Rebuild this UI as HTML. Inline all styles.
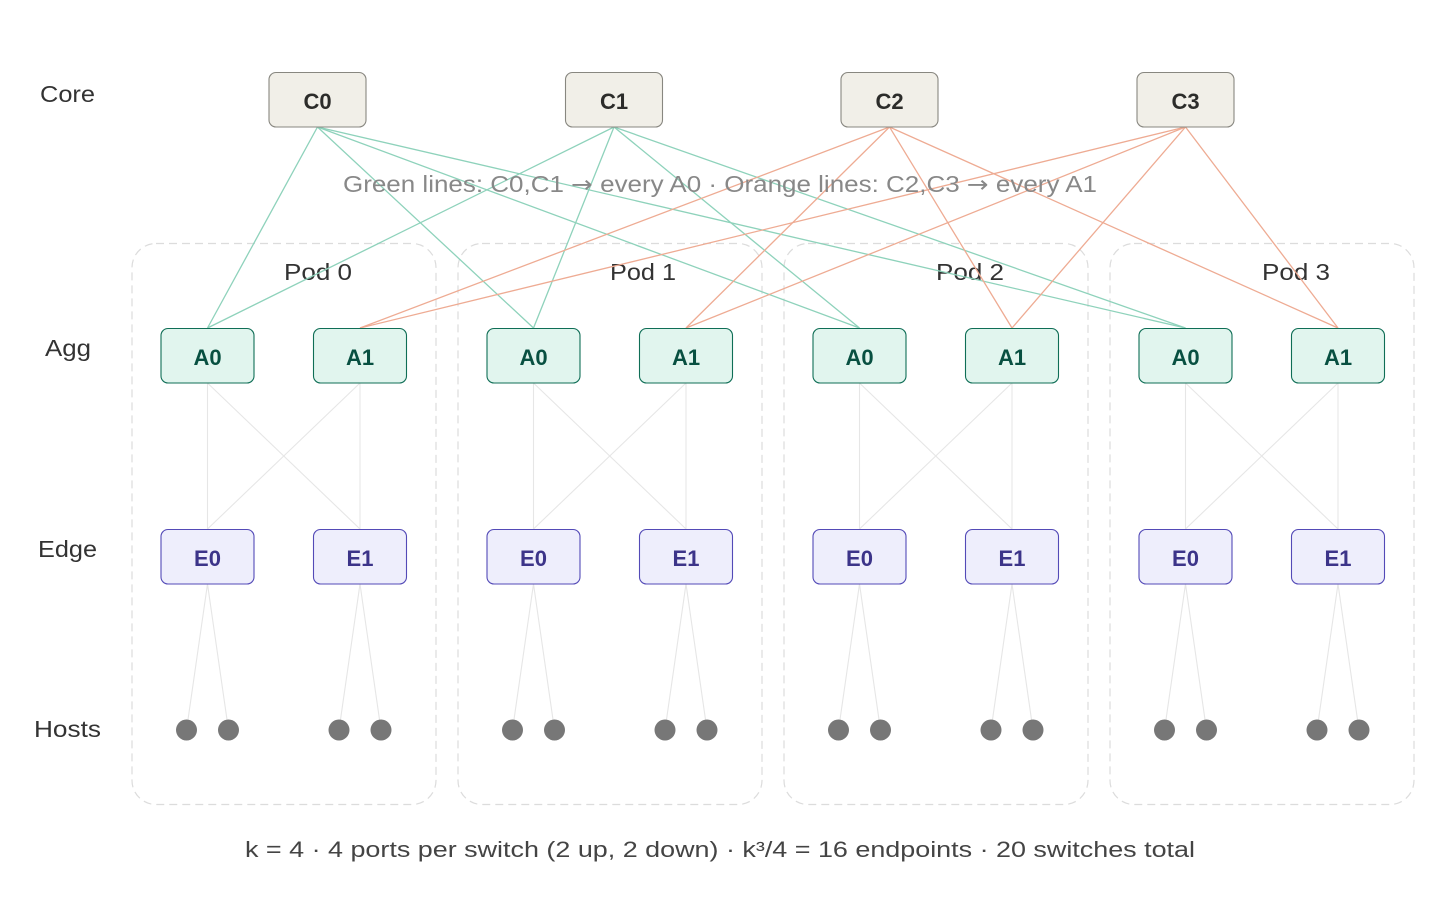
<!DOCTYPE html>
<html><head><meta charset="utf-8"><style>
html,body{margin:0;padding:0;background:#fff;}
svg{display:block;}
text{font-family:"Liberation Sans",Arial,sans-serif;}
</style></head><body>
<svg width="1440" height="910" viewBox="0 0 1440 910" xmlns="http://www.w3.org/2000/svg">
<defs>
<g id="pod">
  <rect x="132" y="243.5" width="304" height="561" rx="24" fill="none" stroke="#dcdcdc" stroke-width="1.2" stroke-dasharray="8 5"/>
  <g stroke="#e6e6e6" stroke-width="1.1" fill="none">
    <line x1="207.5" y1="383" x2="207.5" y2="529"/>
    <line x1="207.5" y1="383" x2="360" y2="529"/>
    <line x1="360" y1="383" x2="207.5" y2="529"/>
    <line x1="360" y1="383" x2="360" y2="529"/>
    <line x1="207.5" y1="584" x2="186.5" y2="730"/>
    <line x1="207.5" y1="584" x2="228.5" y2="730"/>
    <line x1="360" y1="584" x2="339" y2="730"/>
    <line x1="360" y1="584" x2="381" y2="730"/>
  </g>
  <g fill="#777">
    <circle cx="186.5" cy="730" r="10.5"/>
    <circle cx="228.5" cy="730" r="10.5"/>
    <circle cx="339" cy="730" r="10.5"/>
    <circle cx="381" cy="730" r="10.5"/>
  </g>
</g>
<g id="nodes">
  <rect x="161" y="328.5" width="93" height="54.5" rx="7" fill="#e1f5ee" stroke="#0f6e56" stroke-width="1.1"/>
  <text x="207.5" y="365" font-size="22" font-weight="bold" fill="#085041" text-anchor="middle">A0</text>
  <rect x="313.5" y="328.5" width="93" height="54.5" rx="7" fill="#e1f5ee" stroke="#0f6e56" stroke-width="1.1"/>
  <text x="360" y="365" font-size="22" font-weight="bold" fill="#085041" text-anchor="middle">A1</text>
  <rect x="161" y="529.5" width="93" height="54.5" rx="7" fill="#eeeefc" stroke="#534ab7" stroke-width="1.1"/>
  <text x="207.5" y="566" font-size="22" font-weight="bold" fill="#3c3489" text-anchor="middle">E0</text>
  <rect x="313.5" y="529.5" width="93" height="54.5" rx="7" fill="#eeeefc" stroke="#534ab7" stroke-width="1.1"/>
  <text x="360" y="566" font-size="22" font-weight="bold" fill="#3c3489" text-anchor="middle">E1</text>
</g>
</defs>

<use href="#pod"/>
<use href="#pod" transform="translate(326,0)"/>
<use href="#pod" transform="translate(652,0)"/>
<use href="#pod" transform="translate(978,0)"/>

<g font-size="23" fill="#333">
  <text x="284" y="280" textLength="68" lengthAdjust="spacingAndGlyphs">Pod 0</text>
  <text x="610" y="280" textLength="66" lengthAdjust="spacingAndGlyphs">Pod 1</text>
  <text x="936" y="280" textLength="68" lengthAdjust="spacingAndGlyphs">Pod 2</text>
  <text x="1262" y="280" textLength="68" lengthAdjust="spacingAndGlyphs">Pod 3</text>
</g>

<g stroke="#8ed2bb" stroke-width="1.3" fill="none">
  <line x1="317.5" y1="127" x2="207.5" y2="328"/>
  <line x1="317.5" y1="127" x2="533.5" y2="328"/>
  <line x1="317.5" y1="127" x2="859.5" y2="328"/>
  <line x1="317.5" y1="127" x2="1185.5" y2="328"/>
  <line x1="614" y1="127" x2="207.5" y2="328"/>
  <line x1="614" y1="127" x2="533.5" y2="328"/>
  <line x1="614" y1="127" x2="859.5" y2="328"/>
  <line x1="614" y1="127" x2="1185.5" y2="328"/>
</g>
<g stroke="#eeab93" stroke-width="1.3" fill="none">
  <line x1="889.5" y1="127" x2="360" y2="328"/>
  <line x1="889.5" y1="127" x2="686" y2="328"/>
  <line x1="889.5" y1="127" x2="1012" y2="328"/>
  <line x1="889.5" y1="127" x2="1338" y2="328"/>
  <line x1="1185.5" y1="127" x2="360" y2="328"/>
  <line x1="1185.5" y1="127" x2="686" y2="328"/>
  <line x1="1185.5" y1="127" x2="1012" y2="328"/>
  <line x1="1185.5" y1="127" x2="1338" y2="328"/>
</g>

<use href="#nodes"/>
<use href="#nodes" transform="translate(326,0)"/>
<use href="#nodes" transform="translate(652,0)"/>
<use href="#nodes" transform="translate(978,0)"/>

<g>
  <rect x="269" y="72.5" width="97" height="54.5" rx="7" fill="#f1efe8" stroke="#888780" stroke-width="1.1"/>
  <text x="317.5" y="109" font-size="22" font-weight="bold" fill="#2c2c2a" text-anchor="middle">C0</text>
  <rect x="565.5" y="72.5" width="97" height="54.5" rx="7" fill="#f1efe8" stroke="#888780" stroke-width="1.1"/>
  <text x="614" y="109" font-size="22" font-weight="bold" fill="#2c2c2a" text-anchor="middle">C1</text>
  <rect x="841" y="72.5" width="97" height="54.5" rx="7" fill="#f1efe8" stroke="#888780" stroke-width="1.1"/>
  <text x="889.5" y="109" font-size="22" font-weight="bold" fill="#2c2c2a" text-anchor="middle">C2</text>
  <rect x="1137" y="72.5" width="97" height="54.5" rx="7" fill="#f1efe8" stroke="#888780" stroke-width="1.1"/>
  <text x="1185.5" y="109" font-size="22" font-weight="bold" fill="#2c2c2a" text-anchor="middle">C3</text>
</g>

<g font-size="23" fill="#333">
  <text x="40" y="102" textLength="55" lengthAdjust="spacingAndGlyphs">Core</text>
  <text x="45" y="356" textLength="46" lengthAdjust="spacingAndGlyphs">Agg</text>
  <text x="38" y="557" textLength="59" lengthAdjust="spacingAndGlyphs">Edge</text>
  <text x="34" y="737" textLength="67" lengthAdjust="spacingAndGlyphs">Hosts</text>
</g>

<text x="343" y="192" font-size="23" fill="#888" textLength="754" lengthAdjust="spacingAndGlyphs">Green lines: C0,C1 <tspan font-family="DejaVu Sans, sans-serif">→</tspan> every A0 · Orange lines: C2,C3 <tspan font-family="DejaVu Sans, sans-serif">→</tspan> every A1</text>

<text x="245" y="857" font-size="22" fill="#444" textLength="950" lengthAdjust="spacingAndGlyphs">k = 4 · 4 ports per switch (2 up, 2 down) · k³/4 = 16 endpoints · 20 switches total</text>
</svg>
</body></html>
